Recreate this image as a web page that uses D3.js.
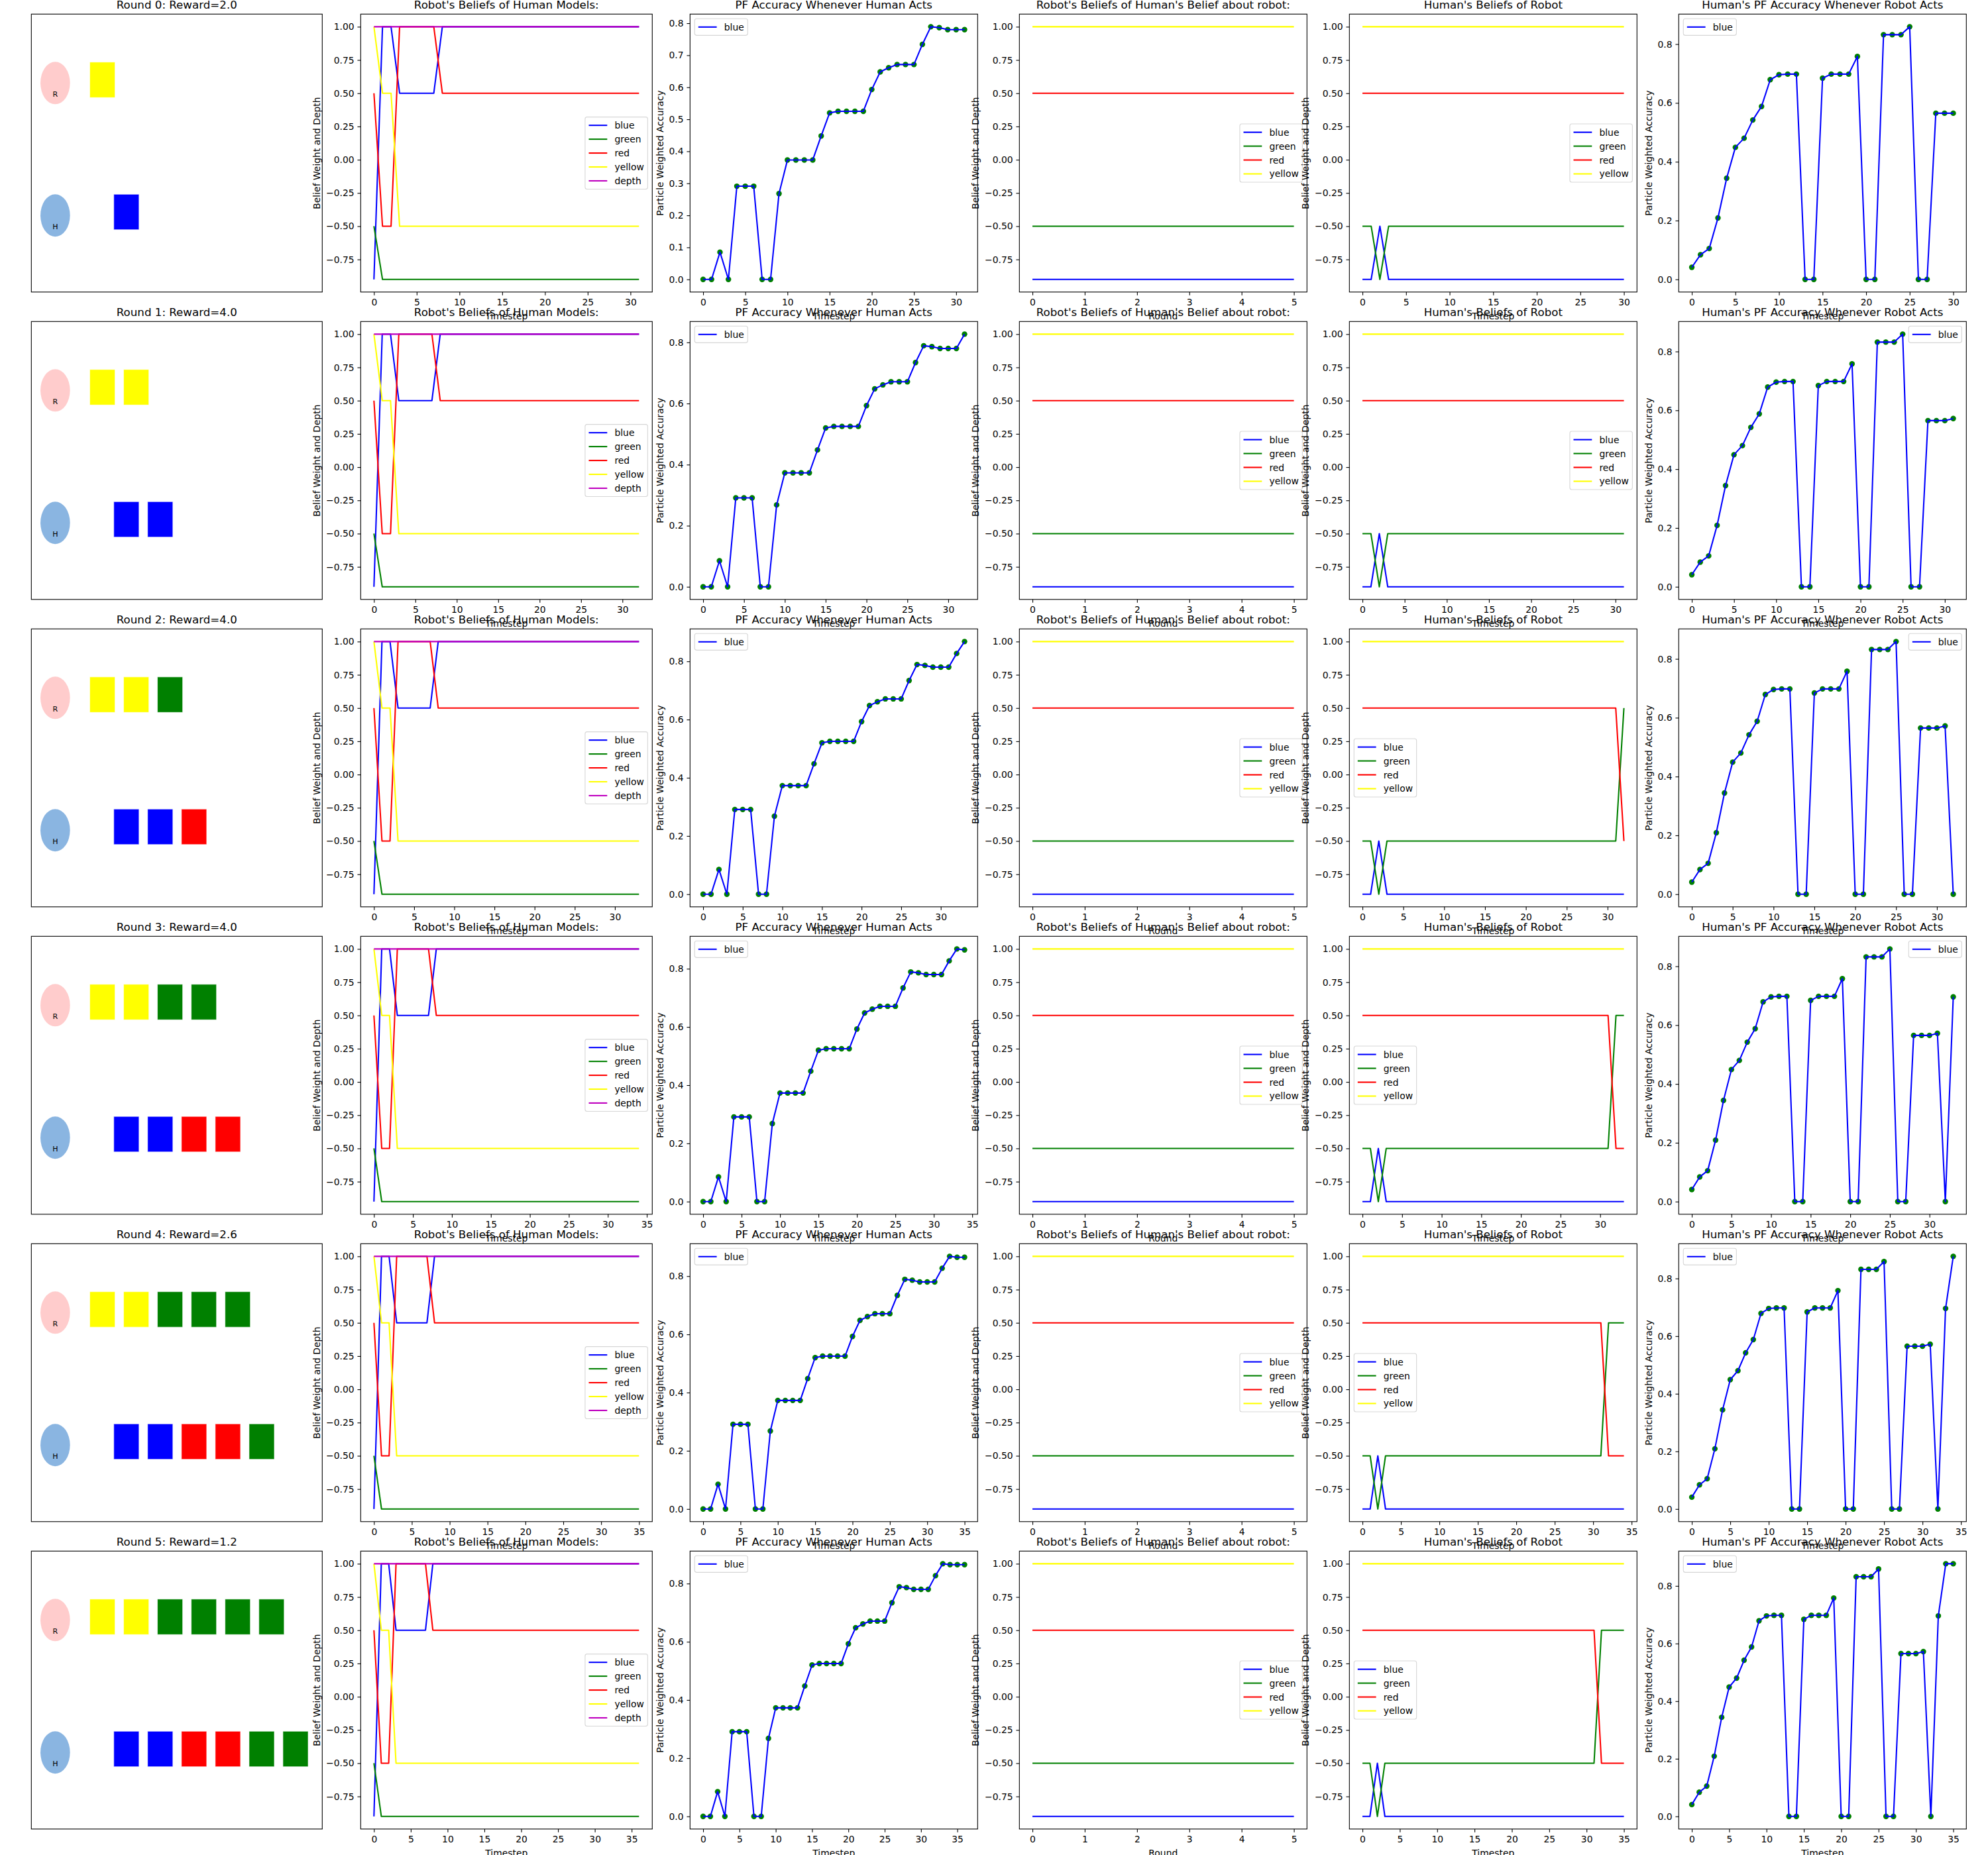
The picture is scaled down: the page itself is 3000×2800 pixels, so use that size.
<!DOCTYPE html>
<html><head><meta charset="utf-8">
<script src="https://cdn.jsdelivr.net/npm/d3@7"></script>
<style>
body{margin:0;background:#fff}
svg{display:block}
</style>
</head><body>
<svg id="c" width="3000" height="2800"></svg>
<script>
// ---------------- DATA ----------------
const rounds = [0, 1, 2, 3, 4, 5];
const rewards = [2.0, 4.0, 4.0, 4.0, 2.6, 1.2];
const robotBlocks = ["yellow", "yellow", "green", "green", "green", "green"];
const humanBlocks = ["blue", "blue", "red", "red", "green", "green"];
const blockColors = {yellow: "#ffff00", green: "#008000", blue: "#0000ff", red: "#ff0000"};

// number of timesteps shown in each round's plots
const humanActSteps = [32, 33, 34, 35, 36, 37];   // robot's beliefs / PF accuracy whenever human acts
const robotActSteps = [31, 32, 33, 34, 35, 36];   // human's beliefs / human's PF accuracy whenever robot acts

// Robot's Beliefs of Human Models (timesteps 0..36)
const rbhBlue   = [-0.9, 1, 1, 0.5, 0.5, 0.5, 0.5, 0.5, 1, 1, 1, 1, 1, 1, 1, 1, 1, 1, 1, 1, 1, 1, 1, 1, 1, 1, 1, 1, 1, 1, 1, 1, 1, 1, 1, 1, 1];
const rbhGreen  = [-0.5, -0.9, -0.9, -0.9, -0.9, -0.9, -0.9, -0.9, -0.9, -0.9, -0.9, -0.9, -0.9, -0.9, -0.9, -0.9, -0.9, -0.9, -0.9, -0.9, -0.9, -0.9, -0.9, -0.9, -0.9, -0.9, -0.9, -0.9, -0.9, -0.9, -0.9, -0.9, -0.9, -0.9, -0.9, -0.9, -0.9];
const rbhRed    = [0.5, -0.5, -0.5, 1, 1, 1, 1, 1, 0.5, 0.5, 0.5, 0.5, 0.5, 0.5, 0.5, 0.5, 0.5, 0.5, 0.5, 0.5, 0.5, 0.5, 0.5, 0.5, 0.5, 0.5, 0.5, 0.5, 0.5, 0.5, 0.5, 0.5, 0.5, 0.5, 0.5, 0.5, 0.5];
const rbhYellow = [1, 0.5, 0.5, -0.5, -0.5, -0.5, -0.5, -0.5, -0.5, -0.5, -0.5, -0.5, -0.5, -0.5, -0.5, -0.5, -0.5, -0.5, -0.5, -0.5, -0.5, -0.5, -0.5, -0.5, -0.5, -0.5, -0.5, -0.5, -0.5, -0.5, -0.5, -0.5, -0.5, -0.5, -0.5, -0.5, -0.5];
const rbhDepth  = [1, 1, 1, 1, 1, 1, 1, 1, 1, 1, 1, 1, 1, 1, 1, 1, 1, 1, 1, 1, 1, 1, 1, 1, 1, 1, 1, 1, 1, 1, 1, 1, 1, 1, 1, 1, 1];

// PF Accuracy Whenever Human Acts (timesteps 0..36)
const pfHuman = [0, 0, 0.085, 0, 0.291, 0.291, 0.291, 0, 0, 0.268,
  0.373, 0.373, 0.373, 0.373, 0.448, 0.520, 0.525, 0.525, 0.525, 0.525,
  0.593, 0.648, 0.661, 0.671, 0.671, 0.671, 0.734, 0.789, 0.786, 0.780,
  0.780, 0.780, 0.827, 0.868, 0.865, 0.865, 0.865];

// Robot's Beliefs of Human's Belief about robot (rounds 0..5)
const rbrBlue   = [-0.9, -0.9, -0.9, -0.9, -0.9, -0.9];
const rbrGreen  = [-0.5, -0.5, -0.5, -0.5, -0.5, -0.5];
const rbrRed    = [0.5, 0.5, 0.5, 0.5, 0.5, 0.5];
const rbrYellow = [1, 1, 1, 1, 1, 1];

// Human's Beliefs of Robot (timesteps 0..35)
const hbrBlue   = [-0.9, -0.9, -0.5, -0.9, -0.9, -0.9, -0.9, -0.9, -0.9, -0.9, -0.9, -0.9, -0.9, -0.9, -0.9, -0.9, -0.9, -0.9, -0.9, -0.9, -0.9, -0.9, -0.9, -0.9, -0.9, -0.9, -0.9, -0.9, -0.9, -0.9, -0.9, -0.9, -0.9, -0.9, -0.9, -0.9];
const hbrGreen  = [-0.5, -0.5, -0.9, -0.5, -0.5, -0.5, -0.5, -0.5, -0.5, -0.5, -0.5, -0.5, -0.5, -0.5, -0.5, -0.5, -0.5, -0.5, -0.5, -0.5, -0.5, -0.5, -0.5, -0.5, -0.5, -0.5, -0.5, -0.5, -0.5, -0.5, -0.5, -0.5, 0.5, 0.5, 0.5, 0.5];
const hbrRed    = [0.5, 0.5, 0.5, 0.5, 0.5, 0.5, 0.5, 0.5, 0.5, 0.5, 0.5, 0.5, 0.5, 0.5, 0.5, 0.5, 0.5, 0.5, 0.5, 0.5, 0.5, 0.5, 0.5, 0.5, 0.5, 0.5, 0.5, 0.5, 0.5, 0.5, 0.5, 0.5, -0.5, -0.5, -0.5, -0.5];
const hbrYellow = [1, 1, 1, 1, 1, 1, 1, 1, 1, 1, 1, 1, 1, 1, 1, 1, 1, 1, 1, 1, 1, 1, 1, 1, 1, 1, 1, 1, 1, 1, 1, 1, 1, 1, 1, 1];

// Human's PF Accuracy Whenever Robot Acts (timesteps 0..35)
const pfRobot = [0.041, 0.084, 0.105, 0.209, 0.344, 0.449, 0.480, 0.542, 0.588, 0.679,
  0.696, 0.698, 0.698, 0, 0, 0.684, 0.698, 0.698, 0.698, 0.758,
  0, 0, 0.832, 0.832, 0.832, 0.859, 0, 0, 0.565, 0.565,
  0.565, 0.572, 0, 0.696, 0.877, 0.877];

// tick values
const beliefTicks = [-0.75, -0.5, -0.25, 0, 0.25, 0.5, 0.75, 1.0];
const pfTicksFine = [0, 0.1, 0.2, 0.3, 0.4, 0.5, 0.6, 0.7, 0.8];
const pfTicksCoarse = [0, 0.2, 0.4, 0.6, 0.8];
const pfHumanTickSets = ["fine", "coarse", "coarse", "coarse", "coarse", "coarse"];

// legend locations
const hbrLegendLoc = ["center right", "center right", "center left", "center left", "center left", "center left"];
const pfRobotLegendLoc = ["upper left", "upper right", "upper right", "upper right", "upper left", "upper left"];

// ---------------- LAYOUT ----------------
const FONT = "DejaVu Sans";
const FS = 13.9, TFS = 16.67;
const colLeft = [47.3, 544.3, 1041.3, 1538.3, 2036.3, 2533.3];
const colWidth = [439, 440, 434, 434, 434, 434];
const rowTop0 = 21.3, rowStep = 464, axH = 419.5;
const TICK = 4.86, TPAD = 4.86, LPAD = 5.56;
const LW = 2.08;

const svg = d3.select("#c");
svg.append("rect").attr("width", 3000).attr("height", 2800).attr("fill", "#fff");

function measure(txt, fs) {
  const t = svg.append("text").attr("font-family", FONT).attr("font-size", fs).text(txt);
  const w = t.node().getComputedTextLength();
  t.remove();
  return w;
}

function addTitle(g, x0, y0, w, txt) {
  g.append("text").attr("x", x0 + w / 2).attr("y", y0 - 8.33)
    .attr("text-anchor", "middle").attr("font-family", FONT).attr("font-size", TFS)
    .attr("fill", "#000").text(txt);
}

function addLegend(g, x0, y0, w, h, items, loc) {
  const pad = 0.4 * FS, hl = 2 * FS, htp = 0.8 * FS, ls = 0.5 * FS, rowH = 14.0, bap = 0.5 * FS;
  const tw = d3.max(items, d => measure(d.name, FS));
  const bw = 2 * pad + hl + htp + tw;
  const bh = 2 * pad + items.length * rowH + (items.length - 1) * ls;
  let bx, by;
  if (loc.indexOf("left") >= 0) bx = x0 + bap; else bx = x0 + w - bap - bw;
  if (loc.indexOf("upper") === 0) by = y0 + bap;
  else by = y0 + h / 2 - bh / 2;
  const lg = g.append("g");
  lg.append("rect").attr("x", bx).attr("y", by).attr("width", bw).attr("height", bh)
    .attr("rx", 3).attr("fill", "#fff").attr("fill-opacity", 0.8)
    .attr("stroke", "#cccccc").attr("stroke-opacity", 0.8).attr("stroke-width", 1.1);
  items.forEach((d, i) => {
    const cy = by + pad + i * (rowH + ls) + rowH / 2;
    lg.append("line").attr("x1", bx + pad).attr("x2", bx + pad + hl).attr("y1", cy).attr("y2", cy)
      .attr("stroke", d.color).attr("stroke-width", LW);
    lg.append("text").attr("x", bx + pad + hl + htp).attr("y", cy).attr("dy", "0.36em")
      .attr("font-family", FONT).attr("font-size", FS).attr("fill", "#000").text(d.name);
  });
}

function linePanel(r, c, cfg) {
  const x0 = colLeft[c], y0 = rowTop0 + r * rowStep, w = colWidth[c], h = axH;
  const g = svg.append("g");
  const n = cfg.series[0].values.length;
  const all = cfg.series.flatMap(s => s.values);
  const [ymin, ymax] = d3.extent(all);
  const yp = (ymax - ymin) * 0.05, xp = (n - 1) * 0.05;
  const x = d3.scaleLinear().domain([-xp, n - 1 + xp]).range([x0, x0 + w]);
  const y = d3.scaleLinear().domain([ymin - yp, ymax + yp]).range([y0 + h, y0]);

  if (cfg.scatter) {
    cfg.series.forEach(s => {
      g.append("g").selectAll("circle").data(s.values).join("circle")
        .attr("cx", (d, i) => x(i)).attr("cy", d => y(d)).attr("r", 4.2).attr("fill", "#008000");
    });
  }
  const line = d3.line().x((d, i) => x(i)).y(d => y(d));
  cfg.series.forEach(s => {
    g.append("path").attr("d", line(s.values)).attr("fill", "none")
      .attr("stroke", s.color).attr("stroke-width", LW).attr("stroke-linejoin", "round");
  });

  const xt = d3.range(0, n - 1 + xp + 1e-9, cfg.xStep);
  const ax = g.append("g").attr("transform", `translate(0,${y0 + h})`)
    .call(d3.axisBottom(x).tickValues(xt).tickFormat(d3.format("d")).tickSize(TICK).tickPadding(TPAD).tickSizeOuter(0));
  const ay = g.append("g").attr("transform", `translate(${x0},0)`)
    .call(d3.axisLeft(y).tickValues(cfg.yTicks).tickFormat(d3.format(cfg.yFmt)).tickSize(TICK).tickPadding(TPAD).tickSizeOuter(0));
  [ax, ay].forEach(a => {
    a.select(".domain").remove();
    a.attr("font-size", FS).attr("font-family", FONT);
    a.selectAll("line").attr("stroke", "#000").attr("stroke-width", 1.1);
    a.selectAll("text").attr("fill", "#000");
  });
  ax.selectAll("text").attr("dy", "0.78em");

  g.append("rect").attr("x", x0).attr("y", y0).attr("width", w).attr("height", h)
    .attr("fill", "none").attr("stroke", "#000").attr("stroke-width", 1.1);

  addLegend(g, x0, y0, w, h, cfg.series.map(s => ({name: s.name, color: s.color})), cfg.legendLoc);
  addTitle(g, x0, y0, w, cfg.title);

  g.append("text").attr("x", x0 + w / 2).attr("y", y0 + h + 41.5).attr("text-anchor", "middle")
    .attr("font-family", FONT).attr("font-size", FS).attr("fill", "#000").text(cfg.xlabel);
  const maxTW = d3.max(ay.selectAll("text").nodes(), nd => nd.getComputedTextLength());
  const xl = x0 - TICK - TPAD - maxTW - LPAD - 3.3;
  g.append("text").attr("transform", `translate(${xl},${y0 + h / 2}) rotate(-90)`)
    .attr("text-anchor", "middle").attr("font-family", FONT).attr("font-size", FS)
    .attr("fill", "#000").text(cfg.ylabel);
}

function roundPanel(r) {
  const x0 = colLeft[0], y0 = rowTop0 + r * rowStep, w = colWidth[0], h = axH;
  const g = svg.append("g");
  const xs = d3.scaleLinear().domain([0, 8.6]).range([x0, x0 + w]);
  const ys = d3.scaleLinear().domain([0, 1]).range([y0, y0 + h]);
  const agents = [
    {name: "R", fill: "#ffcccc", rowY: 0.248, labelY: 0.288, blockY: 0.2365, blockX: 2.1, blocks: robotBlocks.slice(0, r + 1)},
    {name: "H", fill: "#8ab5e1", rowY: 0.7245, labelY: 0.765, blockY: 0.712, blockX: 2.81, blocks: humanBlocks.slice(0, r + 1)}
  ];
  const agentX = 0.706, rx = 0.437, ry = 0.0763, bw = 0.745, bh = 0.1275;
  agents.forEach(a => {
    g.append("ellipse").attr("cx", xs(agentX)).attr("cy", ys(a.rowY))
      .attr("rx", xs(rx) - xs(0)).attr("ry", ys(ry) - ys(0)).attr("fill", a.fill);
    g.append("text").attr("x", xs(agentX)).attr("y", ys(a.labelY)).attr("dy", "0.36em")
      .attr("text-anchor", "middle").attr("font-family", FONT).attr("font-size", 11.1)
      .attr("fill", "#000").text(a.name);
    g.append("g").selectAll("rect").data(a.blocks).join("rect")
      .attr("x", (d, i) => xs(a.blockX + i - bw / 2)).attr("y", ys(a.blockY - bh / 2))
      .attr("width", xs(bw) - xs(0)).attr("height", ys(bh) - ys(0))
      .attr("fill", d => blockColors[d]).attr("stroke", "#ffffff").attr("stroke-opacity", 0.6).attr("stroke-width", 1);
  });
  g.append("rect").attr("x", x0).attr("y", y0).attr("width", w).attr("height", h)
    .attr("fill", "none").attr("stroke", "#000").attr("stroke-width", 1.1);
  addTitle(g, x0, y0, w, `Round ${rounds[r]}: Reward=${d3.format(".1f")(rewards[r])}`);
}

rounds.forEach(r => {
  const nh = humanActSteps[r], nr = robotActSteps[r];
  roundPanel(r);
  linePanel(r, 1, {
    title: "Robot's Beliefs of Human Models:", xlabel: "Timestep", ylabel: "Belief Weight and Depth",
    series: [
      {name: "blue", color: "#0000ff", values: rbhBlue.slice(0, nh)},
      {name: "green", color: "#008000", values: rbhGreen.slice(0, nh)},
      {name: "red", color: "#ff0000", values: rbhRed.slice(0, nh)},
      {name: "yellow", color: "#ffff00", values: rbhYellow.slice(0, nh)},
      {name: "depth", color: "#bf00bf", values: rbhDepth.slice(0, nh)}
    ],
    xStep: 5, yTicks: beliefTicks, yFmt: ".2f", legendLoc: "center right"
  });
  linePanel(r, 2, {
    title: "PF Accuracy Whenever Human Acts", xlabel: "Timestep", ylabel: "Particle Weighted Accuracy",
    series: [{name: "blue", color: "#0000ff", values: pfHuman.slice(0, nh)}], scatter: true,
    xStep: 5, yTicks: pfHumanTickSets[r] === "fine" ? pfTicksFine : pfTicksCoarse, yFmt: ".1f", legendLoc: "upper left"
  });
  linePanel(r, 3, {
    title: "Robot's Beliefs of Human's Belief about robot:", xlabel: "Round", ylabel: "Belief Weight and Depth",
    series: [
      {name: "blue", color: "#0000ff", values: rbrBlue},
      {name: "green", color: "#008000", values: rbrGreen},
      {name: "red", color: "#ff0000", values: rbrRed},
      {name: "yellow", color: "#ffff00", values: rbrYellow}
    ],
    xStep: 1, yTicks: beliefTicks, yFmt: ".2f", legendLoc: "center right"
  });
  linePanel(r, 4, {
    title: "Human's Beliefs of Robot", xlabel: "Timestep", ylabel: "Belief Weight and Depth",
    series: [
      {name: "blue", color: "#0000ff", values: hbrBlue.slice(0, nr)},
      {name: "green", color: "#008000", values: hbrGreen.slice(0, nr)},
      {name: "red", color: "#ff0000", values: hbrRed.slice(0, nr)},
      {name: "yellow", color: "#ffff00", values: hbrYellow.slice(0, nr)}
    ],
    xStep: 5, yTicks: beliefTicks, yFmt: ".2f", legendLoc: hbrLegendLoc[r]
  });
  linePanel(r, 5, {
    title: "Human's PF Accuracy Whenever Robot Acts", xlabel: "Timestep", ylabel: "Particle Weighted Accuracy",
    series: [{name: "blue", color: "#0000ff", values: pfRobot.slice(0, nr)}], scatter: true,
    xStep: 5, yTicks: pfTicksCoarse, yFmt: ".1f", legendLoc: pfRobotLegendLoc[r]
  });
});
</script>
</body></html>
